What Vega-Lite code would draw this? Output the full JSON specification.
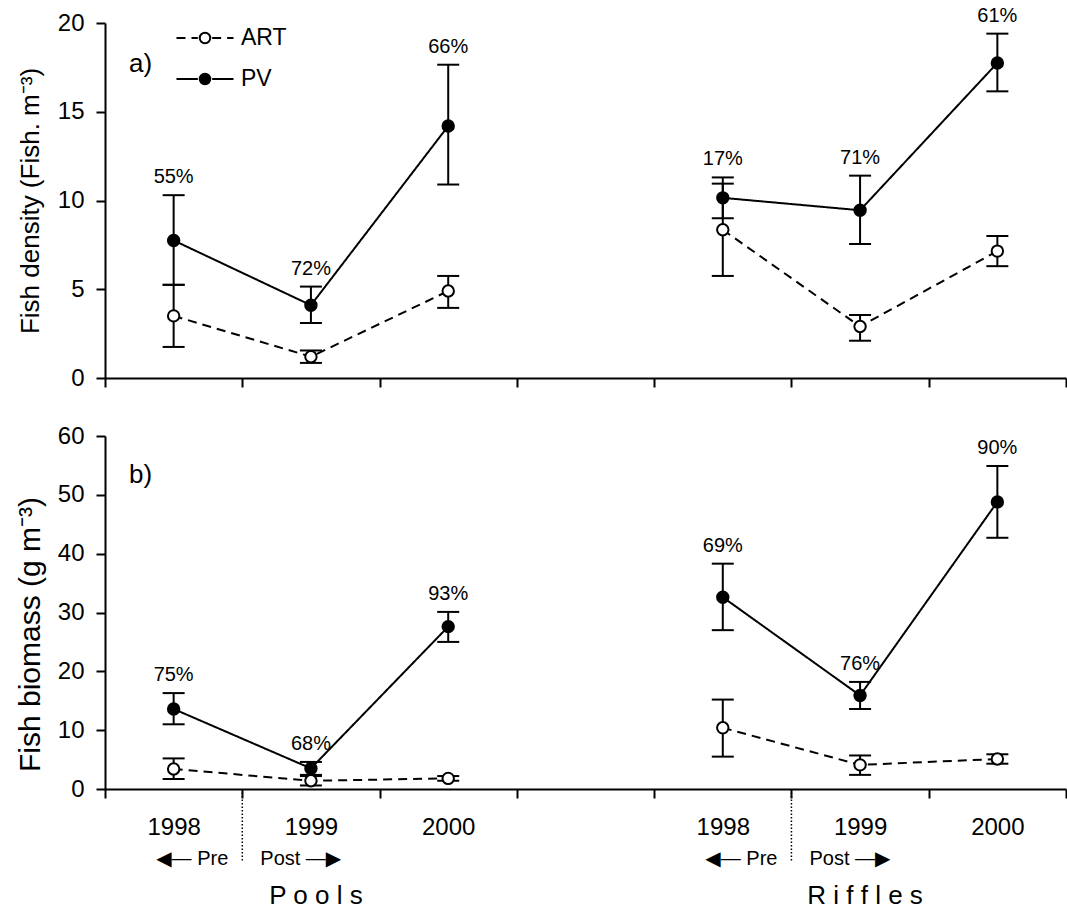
{
  "$schema": "https://vega.github.io/schema/vega-lite/v6.json",
  "padding": {"left": 15, "top": 5, "right": 2, "bottom": 5},
  "config": {
    "font": "Liberation Sans",
    "view": {"stroke": null},
    "axis": {"domainColor": "black", "tickColor": "black", "labelColor": "black", "titleColor": "black", "titleFontWeight": "normal", "grid": false},
    "text": {"color": "black", "font": "Liberation Sans"}
  },
  "datasets": {
    "fish": [
      {"measure": "density", "habitat": "Pools", "year": "1998", "series": "ART", "mean": 3.5, "lo": 1.75, "hi": 5.25, "pct": null},
      {"measure": "density", "habitat": "Pools", "year": "1998", "series": "PV", "mean": 7.75, "lo": 5.25, "hi": 10.3, "pct": "55%"},
      {"measure": "density", "habitat": "Pools", "year": "1999", "series": "ART", "mean": 1.2, "lo": 0.85, "hi": 1.55, "pct": null},
      {"measure": "density", "habitat": "Pools", "year": "1999", "series": "PV", "mean": 4.1, "lo": 3.1, "hi": 5.15, "pct": "72%"},
      {"measure": "density", "habitat": "Pools", "year": "2000", "series": "ART", "mean": 4.9, "lo": 3.95, "hi": 5.75, "pct": null},
      {"measure": "density", "habitat": "Pools", "year": "2000", "series": "PV", "mean": 14.2, "lo": 10.9, "hi": 17.65, "pct": "66%"},
      {"measure": "density", "habitat": "Riffles", "year": "1998", "series": "ART", "mean": 8.35, "lo": 5.75, "hi": 10.95, "pct": null},
      {"measure": "density", "habitat": "Riffles", "year": "1998", "series": "PV", "mean": 10.15, "lo": 9.0, "hi": 11.3, "pct": "17%"},
      {"measure": "density", "habitat": "Riffles", "year": "1999", "series": "ART", "mean": 2.9, "lo": 2.1, "hi": 3.55, "pct": null},
      {"measure": "density", "habitat": "Riffles", "year": "1999", "series": "PV", "mean": 9.45, "lo": 7.55, "hi": 11.4, "pct": "71%"},
      {"measure": "density", "habitat": "Riffles", "year": "2000", "series": "ART", "mean": 7.15, "lo": 6.3, "hi": 8.0, "pct": null},
      {"measure": "density", "habitat": "Riffles", "year": "2000", "series": "PV", "mean": 17.75, "lo": 16.15, "hi": 19.4, "pct": "61%"},
      {"measure": "biomass", "habitat": "Pools", "year": "1998", "series": "ART", "mean": 3.4, "lo": 1.7, "hi": 5.2, "pct": null},
      {"measure": "biomass", "habitat": "Pools", "year": "1998", "series": "PV", "mean": 13.6, "lo": 11.0, "hi": 16.3, "pct": "75%"},
      {"measure": "biomass", "habitat": "Pools", "year": "1999", "series": "ART", "mean": 1.4, "lo": 0.6, "hi": 2.2, "pct": null},
      {"measure": "biomass", "habitat": "Pools", "year": "1999", "series": "PV", "mean": 3.5, "lo": 2.4, "hi": 4.6, "pct": "68%"},
      {"measure": "biomass", "habitat": "Pools", "year": "2000", "series": "ART", "mean": 1.8, "lo": 1.4, "hi": 2.2, "pct": null},
      {"measure": "biomass", "habitat": "Pools", "year": "2000", "series": "PV", "mean": 27.6, "lo": 25.0, "hi": 30.1, "pct": "93%"},
      {"measure": "biomass", "habitat": "Riffles", "year": "1998", "series": "ART", "mean": 10.4, "lo": 5.5, "hi": 15.2, "pct": null},
      {"measure": "biomass", "habitat": "Riffles", "year": "1998", "series": "PV", "mean": 32.6, "lo": 27.0, "hi": 38.3, "pct": "69%"},
      {"measure": "biomass", "habitat": "Riffles", "year": "1999", "series": "ART", "mean": 4.1, "lo": 2.4, "hi": 5.7, "pct": null},
      {"measure": "biomass", "habitat": "Riffles", "year": "1999", "series": "PV", "mean": 15.9, "lo": 13.6, "hi": 18.2, "pct": "76%"},
      {"measure": "biomass", "habitat": "Riffles", "year": "2000", "series": "ART", "mean": 5.1, "lo": 4.3, "hi": 5.9, "pct": null},
      {"measure": "biomass", "habitat": "Riffles", "year": "2000", "series": "PV", "mean": 48.8, "lo": 42.7, "hi": 54.9, "pct": "90%"}
    ],
    "boundaries": [
      {"slot": "Pools 1999"},
      {"slot": "Riffles 1999"}
    ],
    "habitats": [
      {"slot": "Pools 1999", "label": "P o o l s"},
      {"slot": "Riffles 1999", "label": "R i f f l e s"}
    ],
    "single": [{}]
  },
  "spacing": 34,
  "vconcat": [
    {
      "width": 961,
      "height": 355,
      "data": {"name": "fish"},
      "transform": [
        {"filter": "datum.measure === 'density'"},
        {"calculate": "datum.habitat + ' ' + datum.year", "as": "slot"}
      ],
      "encoding": {
        "x": {
          "field": "slot", "type": "nominal",
          "scale": {"type": "band", "domain": ["Pools 1998", "Pools 1999", "Pools 2000", " ", "Riffles 1998", "Riffles 1999", "Riffles 2000"], "paddingInner": 0, "paddingOuter": 0},
          "axis": {"title": null, "labels": false, "tickBand": "extent", "tickSize": 9, "tickWidth": 2, "domainWidth": 2}
        }
      },
      "layer": [
        {
          "mark": {"type": "line", "strokeWidth": 2, "color": "black"},
          "encoding": {
            "y": {
              "field": "mean", "type": "quantitative",
              "scale": {"domain": [0, 20], "nice": false},
              "axis": {"title": "Fish density (Fish. m⁻³)", "values": [0, 5, 10, 15, 20], "tickSize": 9, "tickWidth": 2, "domainWidth": 2, "labelFontSize": 24, "labelPadding": 12, "titleFontSize": 26, "titlePadding": 14}
            },
            "detail": {"field": "habitat"},
            "strokeDash": {
              "field": "series", "type": "nominal",
              "scale": {"range": [[9, 6], [1, 0]]},
              "legend": {
                "title": null, "orient": "none", "legendX": 70.5, "legendY": -3,
                "symbolType": "M-1,0H-0.25M0.25,0H1", "symbolSize": 3249,
                "symbolStrokeColor": "black", "symbolStrokeWidth": 2,
                "clipHeight": 36, "rowPadding": 5, "padding": 0,
                "labelFontSize": 23, "labelOffset": 6.5, "labelOpacity": 0
              }
            }
          }
        },
        {
          "mark": {"type": "rule", "strokeWidth": 2, "color": "black"},
          "encoding": {"y": {"field": "lo", "type": "quantitative"}, "y2": {"field": "hi"}}
        },
        {
          "mark": {"type": "tick", "orient": "horizontal", "size": 22, "thickness": 2, "color": "black", "opacity": 1},
          "encoding": {"y": {"field": "lo", "type": "quantitative"}}
        },
        {
          "mark": {"type": "tick", "orient": "horizontal", "size": 22, "thickness": 2, "color": "black", "opacity": 1},
          "encoding": {"y": {"field": "hi", "type": "quantitative"}}
        },
        {
          "mark": {"type": "point", "filled": true, "size": 130, "stroke": "black", "strokeWidth": 2, "opacity": 1},
          "encoding": {
            "y": {"field": "mean", "type": "quantitative"},
            "fill": {
              "field": "series", "type": "nominal",
              "scale": {"domain": ["ART", "PV"], "range": ["white", "black"]},
              "legend": {
                "title": null, "orient": "none", "legendX": 88.5, "legendY": -3,
                "symbolType": "circle", "symbolSize": 110,
                "symbolStrokeColor": "black", "symbolStrokeWidth": 2, "symbolOpacity": 1,
                "clipHeight": 36, "rowPadding": 5, "padding": 0,
                "labelFontSize": 23, "labelOffset": 24.5, "labelColor": "black"
              }
            }
          }
        },
        {
          "transform": [{"filter": "datum.series === 'PV'"}],
          "mark": {"type": "text", "baseline": "bottom", "dy": -8, "fontSize": 20},
          "encoding": {"y": {"field": "hi", "type": "quantitative"}, "text": {"field": "pct"}}
        },
        {
          "data": {"name": "single"},
          "mark": {"type": "text", "text": "a)", "align": "left", "baseline": "middle", "fontSize": 26, "dx": 24},
          "encoding": {"x": {"datum": "Pools 1998", "bandPosition": 0}, "y": {"datum": 17.7}}
        }
      ]
    },
    {
      "width": 961,
      "height": 353,
      "data": {"name": "fish"},
      "transform": [
        {"filter": "datum.measure === 'biomass'"},
        {"calculate": "datum.habitat + ' ' + datum.year", "as": "slot"}
      ],
      "encoding": {
        "x": {
          "field": "slot", "type": "nominal",
          "scale": {"type": "band", "domain": ["Pools 1998", "Pools 1999", "Pools 2000", " ", "Riffles 1998", "Riffles 1999", "Riffles 2000"], "paddingInner": 0, "paddingOuter": 0},
          "axis": {"title": null, "tickBand": "extent", "tickSize": 9, "tickWidth": 2, "domainWidth": 2, "labelAngle": 0, "labelFontSize": 24, "labelPadding": 17, "labelOverlap": false, "labelBound": false, "labelExpr": "length(datum.label) > 4 ? slice(datum.label, -4) : ''"}
        }
      },
      "layer": [
        {
          "mark": {"type": "line", "strokeWidth": 2, "color": "black"},
          "encoding": {
            "y": {
              "field": "mean", "type": "quantitative",
              "scale": {"domain": [0, 60], "nice": false},
              "axis": {"title": "Fish biomass (g m⁻³)", "values": [0, 10, 20, 30, 40, 50, 60], "tickSize": 9, "tickWidth": 2, "domainWidth": 2, "labelFontSize": 24, "labelPadding": 12, "titleFontSize": 30, "titlePadding": 12, "titleY": 198}
            },
            "detail": {"field": "habitat"},
            "strokeDash": {"field": "series", "type": "nominal", "scale": {"range": [[9, 6], [1, 0]]}}
          }
        },
        {
          "mark": {"type": "rule", "strokeWidth": 2, "color": "black"},
          "encoding": {"y": {"field": "lo", "type": "quantitative"}, "y2": {"field": "hi"}}
        },
        {
          "mark": {"type": "tick", "orient": "horizontal", "size": 22, "thickness": 2, "color": "black", "opacity": 1},
          "encoding": {"y": {"field": "lo", "type": "quantitative"}}
        },
        {
          "mark": {"type": "tick", "orient": "horizontal", "size": 22, "thickness": 2, "color": "black", "opacity": 1},
          "encoding": {"y": {"field": "hi", "type": "quantitative"}}
        },
        {
          "mark": {"type": "point", "filled": true, "size": 130, "stroke": "black", "strokeWidth": 2, "opacity": 1},
          "encoding": {
            "y": {"field": "mean", "type": "quantitative"},
            "fill": {"field": "series", "type": "nominal", "scale": {"domain": ["ART", "PV"], "range": ["white", "black"]}}
          }
        },
        {
          "transform": [{"filter": "datum.series === 'PV'"}],
          "mark": {"type": "text", "baseline": "bottom", "dy": -8, "fontSize": 20},
          "encoding": {"y": {"field": "hi", "type": "quantitative"}, "text": {"field": "pct"}}
        },
        {
          "data": {"name": "single"},
          "mark": {"type": "text", "text": "b)", "align": "left", "baseline": "middle", "fontSize": 26, "dx": 24},
          "encoding": {"x": {"datum": "Pools 1998", "bandPosition": 0}, "y": {"datum": 53.3}}
        },
        {
          "data": {"name": "boundaries"},
          "mark": {"type": "rule", "strokeWidth": 1.5, "strokeDash": [1.5, 2], "color": "black"},
          "encoding": {"x": {"field": "slot", "type": "nominal", "bandPosition": 0}, "y": {"datum": 0}, "y2": {"datum": -12.2}}
        },
        {
          "data": {"name": "boundaries"},
          "mark": {"type": "text", "text": "◀― Pre", "align": "right", "baseline": "middle", "fontSize": 20, "font": "Liberation Sans, DejaVu Sans", "dx": -14},
          "encoding": {"x": {"field": "slot", "type": "nominal", "bandPosition": 0}, "y": {"datum": -11.9}}
        },
        {
          "data": {"name": "boundaries"},
          "mark": {"type": "text", "text": "Post ―▶", "align": "left", "baseline": "middle", "fontSize": 20, "font": "Liberation Sans, DejaVu Sans", "dx": 18},
          "encoding": {"x": {"field": "slot", "type": "nominal", "bandPosition": 0}, "y": {"datum": -11.9}}
        },
        {
          "data": {"name": "habitats"},
          "mark": {"type": "text", "align": "center", "baseline": "middle", "fontSize": 26, "dx": 5},
          "encoding": {"x": {"field": "slot", "type": "nominal"}, "y": {"datum": -18.2}, "text": {"field": "label"}}
        }
      ]
    }
  ]
}
